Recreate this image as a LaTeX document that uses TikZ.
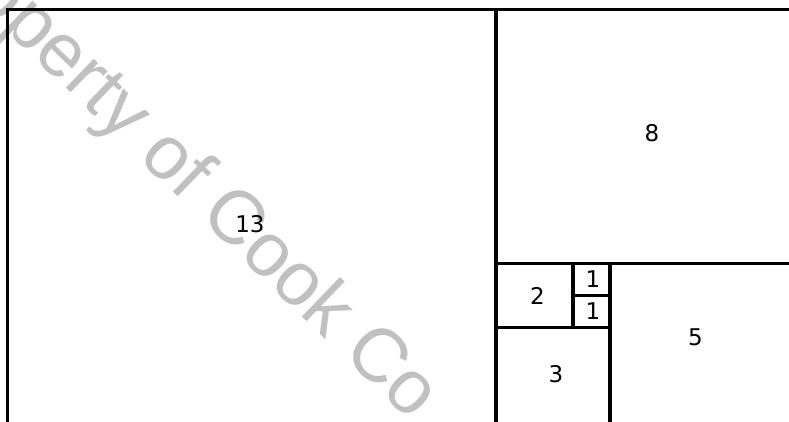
\documentclass[tikz,border=0pt]{standalone}
\usepackage{fontspec}
\usepackage{tikz}
\usetikzlibrary{positioning}
\newfontfamily\numfont{DejaVu Sans}
\newfontfamily\markfont{Liberation Sans}
\definecolor{wmgray}{RGB}{192,192,192}

\begin{document}
\begin{tikzpicture}[
    x=1pt, y=-1pt,
    edge/.style={draw, line width=3.3pt},
    num/.style={font=\numfont\fontsize{23}{23}\selectfont, inner sep=0pt},
    watermark/.style={font=\markfont\fontsize{76}{76}\selectfont, text=wmgray, inner sep=0pt}
]
\useasboundingbox (0,0) rectangle (789,422);
\clip (0,0) rectangle (789,422);

% Watermark across the page
\node[watermark, anchor=base west, rotate=-44] (wm) at (-84,-56) {Property of Cook Co};

% Outer frame and the 13 | 8 split
\draw[edge] (7.5,440) |- (800,9.5);
\draw[edge] (496,9.5) -- (496,440);

% Squares below the 8
\draw[edge] (496,263.5) -- (800,263.5);
\draw[edge] (573,263.5) -- (573,327.5);
\draw[edge] (573,295.5) -- (610,295.5);
\draw[edge] (496,327.5) -- (610,327.5);
\draw[edge] (610,263.5) -- (610,440);

% Side lengths
\node[num] (s13) at (250,224) {13};
\node[num] (s8) at (652,133) {8};
\node[num] (s5) at (695.5,337) {5};
\node[num] (s3) at (556,374) {3};
\node[num] (s2) at (537.5,295.5) {2};
\node[num] (s1a) at (593,279.5) {1};
\node[num] (s1b) at (593,311.5) {1};
\end{tikzpicture}
\end{document}
